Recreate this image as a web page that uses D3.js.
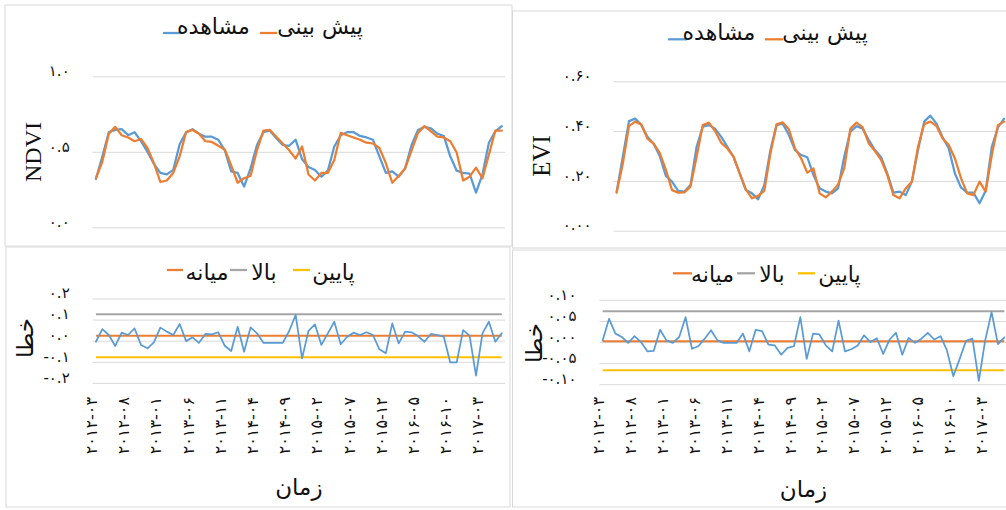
<!DOCTYPE html>
<html><head><meta charset="utf-8">
<script src="https://cdn.jsdelivr.net/npm/d3@7"></script>
<style>body{margin:0;background:#fff}svg{display:block}</style>
</head><body><svg id="c" width="1006" height="510"></svg>
<script>
// ---------- DATA ----------
const months = [
 "2012-03","2012-04","2012-05","2012-06","2012-07","2012-08","2012-09","2012-10","2012-11","2012-12",
 "2013-01","2013-02","2013-03","2013-04","2013-05","2013-06","2013-07","2013-08","2013-09","2013-10","2013-11","2013-12",
 "2014-01","2014-02","2014-03","2014-04","2014-05","2014-06","2014-07","2014-08","2014-09","2014-10","2014-11","2014-12",
 "2015-01","2015-02","2015-03","2015-04","2015-05","2015-06","2015-07","2015-08","2015-09","2015-10","2015-11","2015-12",
 "2016-01","2016-02","2016-03","2016-04","2016-05","2016-06","2016-07","2016-08","2016-09","2016-10","2016-11","2016-12",
 "2017-01","2017-02","2017-03","2017-04","2017-05","2017-06"];
const xTickMonths = ["2012-03","2012-08","2013-01","2013-06","2013-11","2014-04","2014-09","2015-02","2015-07","2015-12","2016-05","2016-10","2017-03"];
const xTickLabels = ["۲۰۱۲-۰۳","۲۰۱۲-۰۸","۲۰۱۳-۰۱","۲۰۱۳-۰۶","۲۰۱۳-۱۱","۲۰۱۴-۰۴","۲۰۱۴-۰۹","۲۰۱۵-۰۲","۲۰۱۵-۰۷","۲۰۱۵-۱۲","۲۰۱۶-۰۵","۲۰۱۶-۱۰","۲۰۱۷-۰۳"];

const ndviObserved = [0.32,0.47,0.63,0.645,0.65,0.61,0.63,0.57,0.50,0.42,0.36,0.35,0.38,0.55,0.63,0.65,0.62,0.60,0.60,0.58,0.51,0.37,0.36,0.27,0.39,0.545,0.63,0.64,0.59,0.545,0.54,0.58,0.45,0.40,0.38,0.335,0.375,0.535,0.61,0.63,0.63,0.605,0.595,0.58,0.47,0.36,0.37,0.335,0.39,0.545,0.645,0.665,0.655,0.62,0.605,0.47,0.375,0.36,0.355,0.23,0.35,0.56,0.635,0.67];
const ndviPredicted = [0.325,0.435,0.62,0.665,0.61,0.595,0.57,0.585,0.525,0.425,0.30,0.31,0.36,0.47,0.63,0.645,0.62,0.57,0.565,0.54,0.515,0.41,0.295,0.325,0.34,0.51,0.64,0.645,0.60,0.555,0.51,0.455,0.535,0.35,0.31,0.36,0.36,0.445,0.625,0.61,0.595,0.58,0.56,0.555,0.525,0.425,0.295,0.34,0.39,0.51,0.625,0.67,0.635,0.60,0.595,0.57,0.495,0.31,0.335,0.395,0.325,0.48,0.64,0.64];
const eviObserved = [0.157,0.297,0.44,0.45,0.425,0.377,0.35,0.30,0.22,0.197,0.16,0.157,0.183,0.337,0.418,0.424,0.41,0.377,0.337,0.297,0.23,0.163,0.15,0.126,0.183,0.324,0.424,0.43,0.384,0.324,0.304,0.295,0.224,0.17,0.157,0.15,0.17,0.297,0.398,0.42,0.41,0.364,0.324,0.295,0.23,0.153,0.157,0.143,0.197,0.324,0.438,0.462,0.43,0.375,0.33,0.23,0.173,0.153,0.153,0.11,0.16,0.337,0.415,0.45];
const eviPredicted = [0.153,0.27,0.42,0.438,0.427,0.37,0.35,0.313,0.244,0.163,0.153,0.154,0.177,0.297,0.424,0.434,0.40,0.353,0.33,0.297,0.23,0.166,0.13,0.14,0.16,0.31,0.427,0.435,0.407,0.33,0.29,0.233,0.25,0.15,0.134,0.157,0.186,0.25,0.41,0.434,0.415,0.35,0.32,0.284,0.224,0.143,0.13,0.17,0.197,0.337,0.428,0.438,0.42,0.37,0.344,0.29,0.21,0.15,0.143,0.197,0.157,0.304,0.424,0.438];
const ndviError = [-0.005,0.055,0.027,-0.025,0.038,0.027,0.058,-0.02,-0.036,-0.008,0.062,0.043,0.027,0.079,-0.002,0.016,-0.01,0.032,0.03,0.04,-0.024,-0.049,0.066,-0.052,0.063,0.035,-0.01,-0.01,-0.01,-0.01,0.046,0.122,-0.084,0.047,0.077,-0.02,0.035,0.09,-0.017,0.019,0.038,0.027,0.04,0.027,-0.041,-0.06,0.082,-0.013,0.043,0.04,0.022,-0.005,0.032,0.027,0.019,-0.103,-0.103,0.05,0.024,-0.166,0.035,0.09,-0.005,0.035];
const eviError = [0.004,0.055,0.02,0.012,-0.002,0.014,0,-0.022,-0.021,0.029,0.004,-0.002,0.012,0.059,-0.016,-0.01,0.008,0.028,0.004,-0.002,-0.002,-0.002,0.02,-0.022,0.029,0.026,-0.006,-0.008,-0.03,-0.014,-0.01,0.059,-0.04,0.02,0.018,-0.008,-0.022,0.051,-0.022,-0.017,-0.008,0.016,0,0.009,-0.028,0.006,0.022,-0.03,0.01,-0.002,0.008,0.022,0.006,0.014,-0.02,-0.081,-0.04,0.003,0.008,-0.092,0.004,0.071,-0.005,0.011];
const ndviErrLimits = [0.125, 0.024, -0.079];   // upper (بالا), mean (میانه), lower (پایین)
const eviErrLimits  = [0.073, 0.002, -0.067];

const ndviTicks = [0, 0.5, 1.0];            const ndviTickLabels = ["۰.۰","۰.۵","۱.۰"];
const eviTicks = [0, 0.2, 0.4, 0.6];         const eviTickLabels = ["۰.۰۰","۰.۲۰","۰.۴۰","۰.۶۰"];
const ndviErrTicks = [-0.2,-0.1,0,0.1,0.2];  const ndviErrTickLabels = ["-۰.۲","-۰.۱","۰.۰","۰.۱","۰.۲"];
const eviErrTicks = [-0.1,-0.05,0,0.05,0.1]; const eviErrTickLabels = ["-۰.۱۰","-۰.۰۵","۰.۰۰","۰.۰۵","۰.۱۰"];

const seriesNames = {obs:"مشاهده", pred:"پیش بینی", mean:"میانه", upper:"بالا", lower:"پایین"};
const xTitle = "زمان", errTitle = "خطا";

// ---------- STYLE ----------
const C = {blue:"#5B9BD5", orange:"#ED7D31", gray:"#A5A5A5", yellow:"#FFC000", grid:"#D9D9D9", border:"#D9D9D9"};
const FA = "'DejaVu Sans', sans-serif";
const svg = d3.select("#c");

function panel(cfg){
  const g = svg.append("g");
  g.append("rect").attr("x",cfg.box[0]).attr("y",cfg.box[1]).attr("width",cfg.box[2]-cfg.box[0]).attr("height",cfg.box[3]-cfg.box[1])
   .attr("fill","#fff").attr("stroke",C.border).attr("stroke-width",1);
  const x = d3.scalePoint().domain(months).range([cfg.x0, cfg.x1]).padding(0.5);
  const y = d3.scaleLinear().domain(cfg.yDomain).range(cfg.yRange);
  const ax = d3.axisLeft(y).tickValues(cfg.ticks).tickFormat((d,i)=>cfg.tickLabels[i])
     .tickSizeInner(-(cfg.x1-cfg.x0)).tickSizeOuter(0).tickPadding(cfg.tickPad);
  const ag = g.append("g").attr("transform",`translate(${cfg.x0},0)`).call(ax);
  ag.select(".domain").remove();
  ag.selectAll(".tick line").attr("stroke",C.grid).attr("stroke-width",1);
  ag.selectAll(".tick text").attr("font-family",FA).attr("font-size",cfg.tickFont).attr("fill","#111").attr("dy","-0.05em");
  if (cfg.limits){
    const cols=[C.gray,C.orange,C.yellow];
    cfg.limits.forEach((v,k)=>{
      g.append("line").attr("x1",x(months[0])).attr("x2",x(months[months.length-1])).attr("y1",y(v)).attr("y2",y(v))
       .attr("stroke",cols[k]).attr("stroke-width",2);
    });
  }
  const line = d3.line().x((d,i)=>x(months[i])).y(d=>y(d));
  cfg.series.forEach(s=>{
    g.append("path").datum(s.values).attr("d",line).attr("fill","none").attr("stroke",s.color)
      .attr("stroke-width",s.w).attr("stroke-linejoin","round").attr("stroke-linecap","round");
  });
  if (cfg.xLabels){
    const xa = d3.axisBottom(x).tickValues(xTickMonths).tickFormat((d,i)=>xTickLabels[i]).tickSize(0);
    const xg = g.append("g").attr("transform",`translate(0,${cfg.yRange[0]})`).call(xa);
    xg.select(".domain").remove();
    xg.selectAll(".tick text").attr("font-family",FA).attr("font-size",16).attr("fill","#111")
      .attr("x",0).attr("y",0).attr("dy",null).attr("text-anchor","end").attr("dominant-baseline","central")
      .attr("transform",`translate(${cfg.xlabDx},${cfg.xlabTop-cfg.yRange[0]}) rotate(-90)`);
    g.append("text").attr("x",(cfg.x0+cfg.x1)/2).attr("y",cfg.xTitleY).attr("text-anchor","middle")
      .attr("font-family",FA).attr("font-size",23).attr("fill","#111").text(xTitle);
  }
  g.append("text").attr("transform",`translate(${cfg.title[1]},${cfg.title[2]}) rotate(-90)`)
    .attr("text-anchor","middle").attr("dominant-baseline","central")
    .attr("font-family",cfg.titleFont).attr("font-size",cfg.titleSize).attr("fill","#111").text(cfg.title[0]);
  cfg.legend.forEach(it=>{
    g.append("line").attr("x1",it.lx[0]).attr("x2",it.lx[1]).attr("y1",it.ly).attr("y2",it.ly)
      .attr("stroke",it.color).attr("stroke-width",2.25);
    g.append("text").attr("x",it.tx).attr("y",it.ty).attr("text-anchor","middle")
      .attr("font-family",FA).attr("font-size",22).attr("fill","#111").text(it.label);
  });
}

panel({box:[5,5,512,246], x0:92.7, x1:505, yDomain:[0,1], yRange:[227.3,76.3],
  ticks:ndviTicks, tickLabels:ndviTickLabels, tickPad:23, tickFont:15,
  series:[{values:ndviObserved,color:C.blue,w:2.25},{values:ndviPredicted,color:C.orange,w:2.25}],
  title:["NDVI",33,152], titleFont:"'Liberation Serif', serif", titleSize:24,
  legend:[{label:seriesNames.obs,color:C.blue,lx:[163,182],ly:33,tx:213.5,ty:34},
          {label:seriesNames.pred,color:C.orange,lx:[260,277],ly:33,tx:320,ty:34}]});

panel({box:[512.5,11,1010,248], x0:613.6, x1:1007.2, yDomain:[0,0.6], yRange:[230.7,81.3],
  ticks:eviTicks, tickLabels:eviTickLabels, tickPad:22, tickFont:15,
  series:[{values:eviObserved,color:C.blue,w:2.25},{values:eviPredicted,color:C.orange,w:2.25}],
  title:["EVI",541.5,156], titleFont:"'Liberation Serif', serif", titleSize:25,
  legend:[{label:seriesNames.obs,color:C.blue,lx:[668,687],ly:39.3,tx:719,ty:40},
          {label:seriesNames.pred,color:C.orange,lx:[765,783],ly:39.3,tx:825,ty:40}]});

panel({box:[6,247,510,507], x0:92.7, x1:505, yDomain:[-0.2,0.2], yRange:[382.9,298.5],
  ticks:ndviErrTicks, tickLabels:ndviErrTickLabels, tickPad:23, tickFont:15, limits:ndviErrLimits,
  series:[{values:ndviError,color:C.blue,w:1.75}],
  xLabels:true, xlabDx:-5, xlabTop:397, xTitleY:495,
  title:[errTitle,25,338], titleFont:FA, titleSize:23,
  legend:[{label:seriesNames.mean,color:C.orange,lx:[167,183],ly:270,tx:207,ty:280},
          {label:seriesNames.upper,color:C.gray,lx:[230,247],ly:270,tx:264,ty:280},
          {label:seriesNames.lower,color:C.yellow,lx:[293,310],ly:270,tx:333.5,ty:280}]});

panel({box:[512.5,250,1010,507], x0:599.5, x1:1007.5, yDomain:[-0.1,0.1], yRange:[384.2,299.9],
  ticks:eviErrTicks, tickLabels:eviErrTickLabels, tickPad:23, tickFont:15, limits:eviErrLimits,
  series:[{values:eviError,color:C.blue,w:1.75}],
  xLabels:true, xlabDx:-4.4, xlabTop:397, xTitleY:497,
  title:[errTitle,534,343], titleFont:FA, titleSize:23,
  legend:[{label:seriesNames.mean,color:C.orange,lx:[673,692],ly:273.3,tx:712.5,ty:282},
          {label:seriesNames.upper,color:C.gray,lx:[737,755],ly:273.3,tx:772,ty:282},
          {label:seriesNames.lower,color:C.yellow,lx:[798,815],ly:273.3,tx:839.5,ty:282}]});
</script></body></html>
